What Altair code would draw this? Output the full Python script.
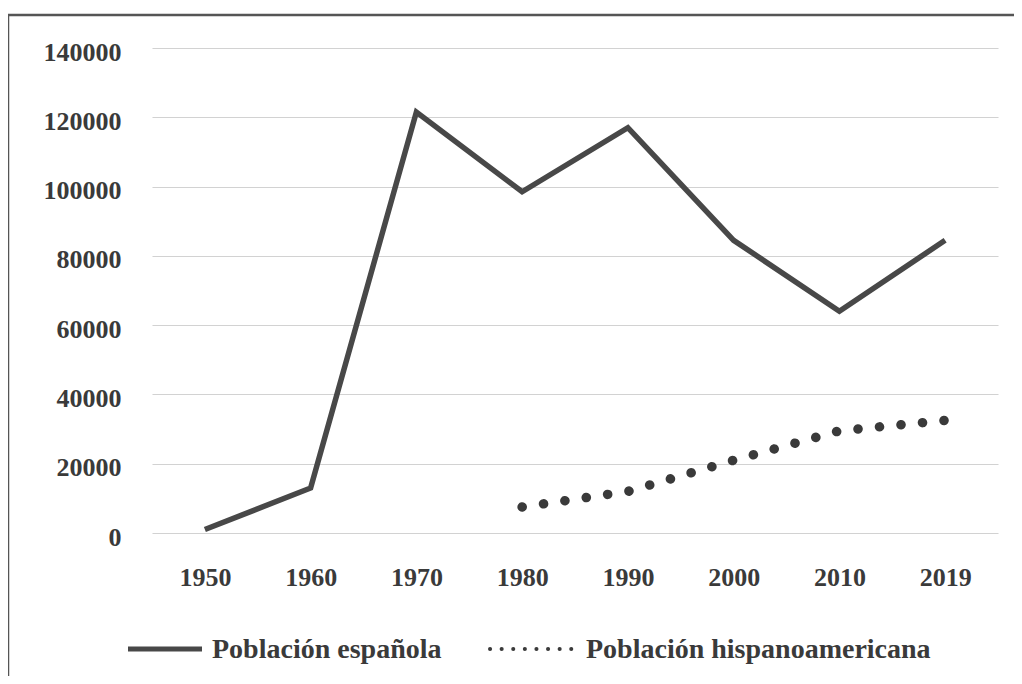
import altair as alt
import pandas as pd

years = ["1950", "1960", "1970", "1980", "1990", "2000", "2010", "2019"]
espanola = [1000, 13000, 121500, 98500, 117000, 84500, 64000, 84500]
hispano = [None, None, None, 7500, 12000, 21000, 29500, 32500]
y_ticks = [0, 20000, 40000, 60000, 80000, 100000, 120000, 140000]
serie_names = ["Población española", "Población hispanoamericana"]

FONT = "Liberation Serif"
W, H = 846, 485
TXT = "#3a3a3a"

df_e = pd.DataFrame({"year": years, "value": espanola})
df_h = pd.DataFrame({"year": years, "value": hispano}).dropna()

x_enc = alt.X("year:O", sort=years, scale=alt.Scale(domain=years, paddingOuter=0.5, paddingInner=0),
              axis=alt.Axis(title=None, labelAngle=0, ticks=False, domain=False, labelPadding=31,
                            labelFont=FONT, labelFontSize=26, labelFontWeight="bold",
                            labelColor=TXT, grid=False))
y_enc = alt.Y("value:Q", scale=alt.Scale(domain=[0, 140000], nice=False),
              axis=alt.Axis(title=None, values=y_ticks, ticks=False, domain=False, labelPadding=31,
                            labelFont=FONT, labelFontSize=26, labelFontWeight="bold",
                            labelColor=TXT, labelOffset=4,
                            grid=True, gridColor="#d2d2d2", gridWidth=1.2, format="d"))

line_e = alt.Chart(df_e).mark_line(color="#484848", strokeWidth=5.5, strokeJoin="miter").encode(
    x=x_enc, y=y_enc)
line_h = alt.Chart(df_h).mark_line(color="#3a3a3a", strokeWidth=9.5, strokeCap="round",
                                   strokeDash=[0.1, 21.5]).encode(
    x=alt.X("year:O", sort=years), y="value:Q")

border = alt.Chart(pd.DataFrame({"a": [0]})).mark_rect(
    fill=None, stroke="#555", strokeWidth=2.5).encode(
    x=alt.value(-144), x2=alt.value(W + 60), y=alt.value(-33), y2=alt.value(H + 200))

leg = pd.DataFrame({"name": serie_names})
leg_line1 = alt.Chart(pd.DataFrame({"a": [0]})).mark_rule(color="#484848", strokeWidth=5).encode(
    x=alt.value(-24), x2=alt.value(50), y=alt.value(H + 116))
leg_line2 = alt.Chart(pd.DataFrame({"a": [0]})).mark_rule(color="#3a3a3a", strokeWidth=4,
                                                          strokeCap="round", strokeDash=[0.1, 11.5]).encode(
    x=alt.value(338), x2=alt.value(428), y=alt.value(H + 116))
leg_t1 = alt.Chart(leg.iloc[[0]]).mark_text(font=FONT, fontSize=28, color=TXT, align="left",
                                            fontWeight="bold", baseline="alphabetic").encode(
    text="name:N", x=alt.value(60), y=alt.value(H + 125))
leg_t2 = alt.Chart(leg.iloc[[1]]).mark_text(font=FONT, fontSize=28, color=TXT, align="left",
                                            fontWeight="bold", baseline="alphabetic").encode(
    text="name:N", x=alt.value(434), y=alt.value(H + 125))

chart = alt.layer(border, line_e, line_h, leg_line1, leg_line2, leg_t1, leg_t2).properties(
    width=W, height=H,
    autosize=alt.AutoSizeParams(type="none"),
    padding={"left": 144, "top": 40, "right": 16, "bottom": 143},
    background="white",
).configure_view(stroke=None)

chart.save("out.html", embed_options={"renderer": "svg", "actions": False})
